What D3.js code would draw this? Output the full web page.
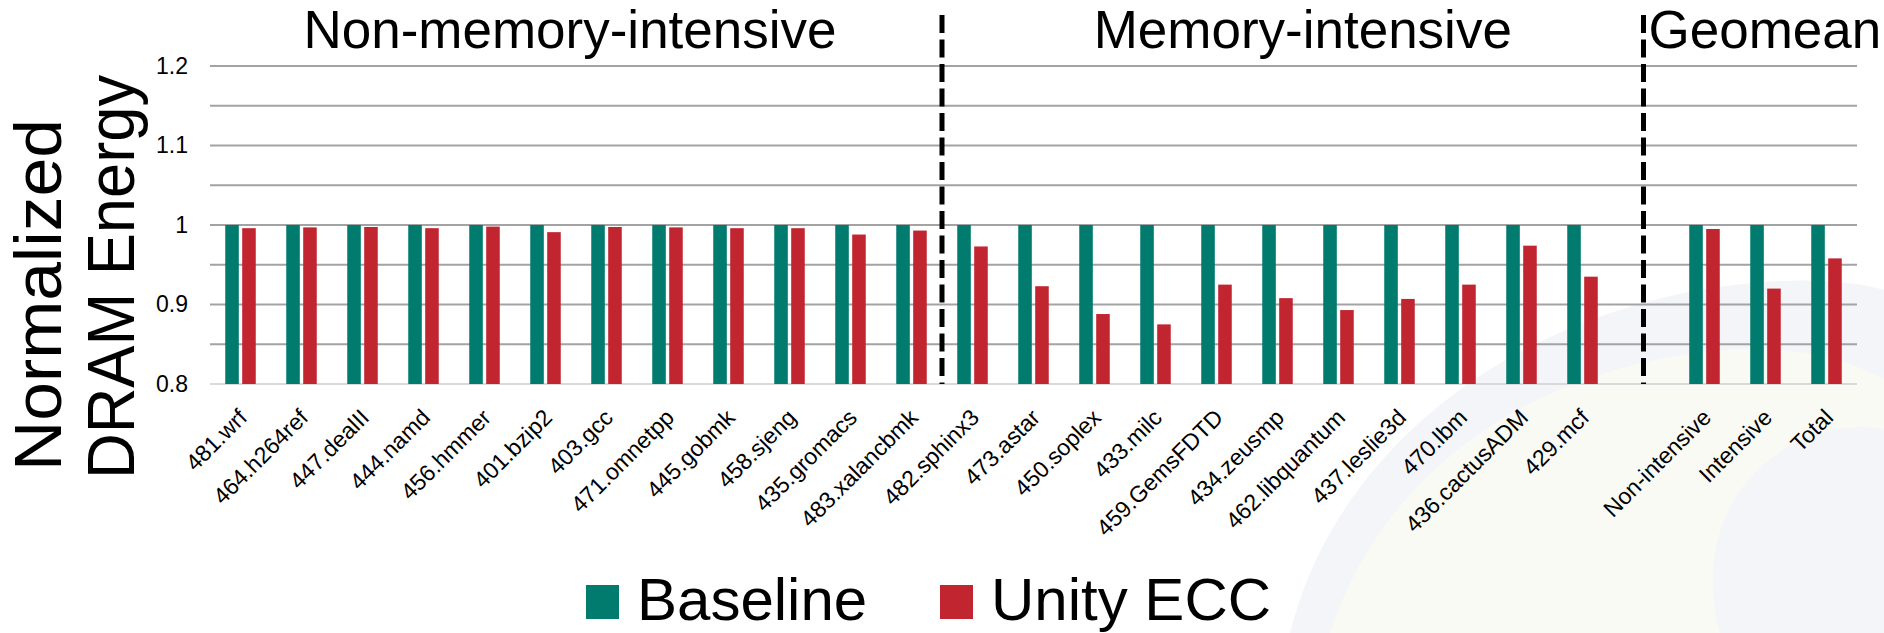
<!DOCTYPE html>
<html>
<head>
<meta charset="utf-8">
<script src="https://cdn.jsdelivr.net/npm/d3@7"></script>
<style>
  body { margin: 0; background: #fff; }
  text { font-family: "Liberation Sans", Arial, sans-serif; fill: #000; }
</style>
</head>
<body>
<div class="container"></div>
<script>
const nonMemory = ['481.wrf', '464.h264ref', '447.dealII', '444.namd', '456.hmmer', '401.bzip2',
    '403.gcc', '471.omnetpp', '445.gobmk', '458.sjeng', '435.gromacs', '483.xalancbmk'];
const memory = ['482.sphinx3', '473.astar', '450.soplex', '433.milc', '459.GemsFDTD', '434.zeusmp',
    '462.libquantum', '437.leslie3d', '470.lbm', '436.cactusADM', '429.mcf'];
const geomean = ['Non-intensive', 'Intensive', 'Total'];
const categories = [...nonMemory, ...memory, 'gap', ...geomean];

const baseline = [1, 1, 1, 1, 1, 1, 1, 1, 1, 1, 1, 1,
    1, 1, 1, 1, 1, 1, 1, 1, 1, 1, 1,
    null,
    1, 1, 1];
const unityEcc = [0.996, 0.997, 0.9975, 0.996, 0.998, 0.991, 0.9975, 0.997, 0.996, 0.996, 0.988, 0.993,
    0.973, 0.923, 0.888, 0.875, 0.925, 0.908, 0.893, 0.907, 0.925, 0.974, 0.935,
    null,
    0.995, 0.920, 0.958];

const series = ['Baseline', 'Unity ECC'];
const colors = ['#007B6E', '#C1252F'];
const yTicks = [0.8, 0.9, 1, 1.1, 1.2];
const groupTitles = ['Non-memory-intensive', 'Memory-intensive', 'Geomean'];

const WIDTH = 1884;
const HEIGHT = 633;
const LEFT = 210;
const RIGHT = 1857;
const TOP = 66;
const BOTTOM = 384;

let translate = (x, y) => `translate(${x}, ${y})`;

let svg = d3.select('.container').append('svg')
    .attr('width', WIDTH)
    .attr('height', HEIGHT);

// faint watermark in the background (right side)
let wm = svg.append('g');
wm.append('path')
    .attr('d', 'M1290,633 C1330,470 1480,330 1700,290 C1790,275 1850,280 1884,290 L1884,633 Z')
    .attr('fill', '#f4f5f8');
wm.append('path')
    .attr('d', 'M1330,633 C1380,480 1520,370 1720,350 C1800,345 1850,360 1884,380 L1884,633 Z')
    .attr('fill', '#fafaf4');
wm.append('path')
    .attr('d', 'M1720,633 C1700,560 1720,480 1800,440 C1840,425 1870,425 1884,430 L1884,633 Z')
    .attr('fill', '#f4f5f8');

let x = d3.scaleBand()
    .domain(categories)
    .range([LEFT, RIGHT])
    .paddingInner(0.5)
    .paddingOuter(0.25);

let xInner = d3.scaleBand()
    .domain(series)
    .range([0, x.bandwidth()])
    .paddingInner(0.2);

let y = d3.scaleLinear()
    .domain([0.8, 1.2])
    .range([BOTTOM, TOP]);

// grid lines every 0.05
let gridValues = d3.range(0.85, 1.2001, 0.05);
svg.append('g').selectAll('line')
    .data(gridValues)
    .enter().append('line')
    .attr('x1', LEFT)
    .attr('x2', RIGHT)
    .attr('y1', d => y(d))
    .attr('y2', d => y(d))
    .attr('stroke', '#a3a3a3')
    .attr('stroke-width', 2);

svg.append('line')
    .attr('x1', LEFT).attr('x2', RIGHT)
    .attr('y1', y(0.8)).attr('y2', y(0.8))
    .attr('stroke', '#d9d9d9')
    .attr('stroke-width', 2);

// y axis labels
let yAxis = d3.axisLeft(y)
    .tickValues(yTicks)
    .tickFormat(d3.format('~g'))
    .tickSize(0)
    .tickPadding(0);

svg.append('g')
    .attr('transform', translate(188, 0))
    .call(yAxis)
    .call(g => g.select('.domain').remove())
    .call(g => g.selectAll('text')
        .attr('font-size', 23)
        .attr('font-family', '"Liberation Sans", Arial, sans-serif')
        .attr('fill', '#000'));

// bars
let rows = categories.map((c, i) => ({ key: c, values: [baseline[i], unityEcc[i]] }));

let groups = svg.append('g').selectAll('g')
    .data(rows.filter(d => d.values[0] !== null))
    .enter().append('g')
    .attr('transform', d => translate(x(d.key), 0));

groups.selectAll('rect')
    .data(d => d.values.map((v, i) => ({ s: series[i], v: v, i: i })))
    .enter().append('rect')
    .attr('x', d => xInner(d.s))
    .attr('width', xInner.bandwidth())
    .attr('y', d => y(d.v))
    .attr('height', d => y(0.8) - y(d.v))
    .attr('fill', d => colors[d.i]);

// category labels
svg.append('g').selectAll('text')
    .data(categories.filter(c => c !== 'gap'))
    .enter().append('text')
    .attr('transform', d => translate(x(d) + x.bandwidth() / 2 + 8, 419) + ' rotate(-45)')
    .attr('text-anchor', 'end')
    .attr('font-size', 23)
    .text(d => d);

// dashed separators
let sep1 = (x(nonMemory[nonMemory.length - 1]) + x.bandwidth() + x(memory[0])) / 2;
let sep2 = x('gap') + x.bandwidth() / 2;

svg.append('g').selectAll('line')
    .data([sep1, sep2])
    .enter().append('line')
    .attr('x1', d => d).attr('x2', d => d)
    .attr('y1', 15).attr('y2', BOTTOM)
    .attr('stroke', '#000')
    .attr('stroke-width', 5)
    .attr('stroke-dasharray', '18,6.5');

// group titles
svg.append('text')
    .attr('x', (LEFT + sep1) / 2 - 6)
    .attr('y', 48)
    .attr('text-anchor', 'middle')
    .attr('font-size', 53)
    .text(groupTitles[0]);

svg.append('text')
    .attr('x', (sep1 + sep2) / 2 + 10)
    .attr('y', 48)
    .attr('text-anchor', 'middle')
    .attr('font-size', 53)
    .text(groupTitles[1]);

svg.append('text')
    .attr('x', sep2 + 5)
    .attr('y', 48)
    .attr('font-size', 53)
    .text(groupTitles[2]);

// y title, two lines
svg.append('text')
    .attr('transform', translate(61, 295) + ' rotate(-90)')
    .attr('text-anchor', 'middle')
    .attr('font-size', 66)
    .attr('textLength', 352)
    .attr('lengthAdjust', 'spacingAndGlyphs')
    .text('Normalized');

svg.append('text')
    .attr('transform', translate(134, 277) + ' rotate(-90)')
    .attr('text-anchor', 'middle')
    .attr('font-size', 66)
    .attr('textLength', 404)
    .attr('lengthAdjust', 'spacingAndGlyphs')
    .text('DRAM Energy');

// legend
let legend = svg.append('g').selectAll('g')
    .data(series)
    .enter().append('g')
    .attr('transform', (d, i) => translate(i === 0 ? 586 : 940, 0));

legend.append('rect')
    .attr('y', 585)
    .attr('width', 33)
    .attr('height', 34)
    .attr('fill', (d, i) => colors[i]);

legend.append('text')
    .attr('x', 51)
    .attr('y', 620)
    .attr('font-size', 60)
    .text(d => d);
</script>
</body>
</html>
